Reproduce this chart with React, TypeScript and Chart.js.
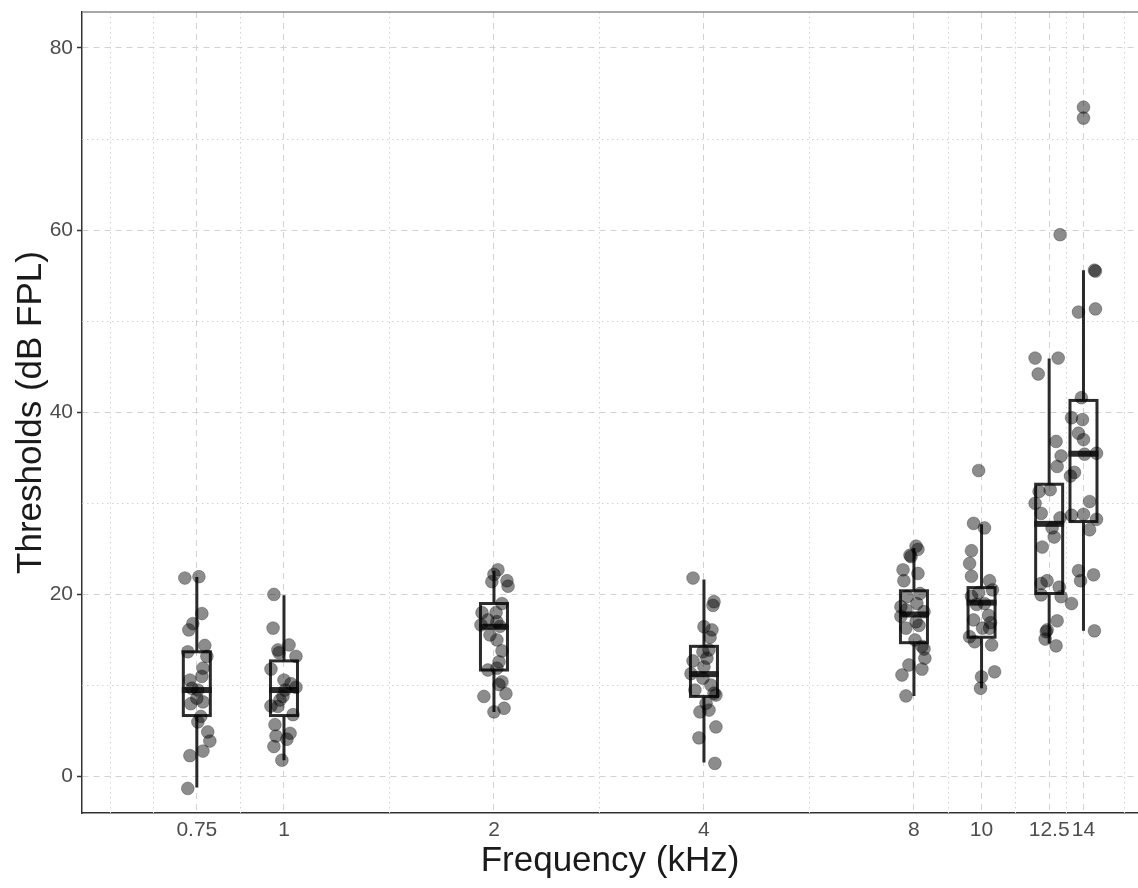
import React, { useEffect, useRef } from "react";
import { Chart, registerables } from "chart.js";

Chart.register(...registerables);

// Frequencies (kHz) and their tick labels
const frequencies = [0.75, 1, 2, 4, 8, 10, 12.5, 14];
const tickLabels = ["0.75", "1", "2", "4", "8", "10", "12.5", "14"];
const minorFreqTicks = [0.5625, 0.65, 0.866, 1.414, 2.828, 5.657, 8.944, 11.18, 13.23, 16];
const yMajorTicks = [0, 20, 40, 60, 80];
const yMinorTicks = [10, 30, 50, 70];

// Individual thresholds (dB FPL) per frequency, with horizontal jitter in milli-octaves
const thr075 = [21.8, 21.95, 17.9, 16.8, 16.1, 14.4, 13.7, 13.2, 11.9, 11.0, 10.6, 9.5, 9.7, 8.6, 8.2, 8.0, 6.6, 6.0, 4.9, 3.9, 2.8, 2.3, -1.3];
const jit075 = [-57, 10, 24, -19, -38, 38, -43, 48, 29, 24, -33, 5, -24, 0, 29, -29, 19, 5, 52, 62, 29, -33, -43];

const thr1 = [20.0, 16.3, 14.45, 13.9, 13.6, 13.2, 11.8, 10.6, 10.2, 9.8, 9.5, 8.8, 8.4, 7.75, 7.7, 6.8, 5.7, 4.75, 4.45, 4.1, 3.3, 1.8];
const jit1 = [-48, -52, 24, -29, -24, 57, -62, 0, 33, 57, 5, -5, -19, -62, -29, 43, -43, 29, -38, 14, -48, -10];

const thr2 = [22.7, 22.2, 21.5, 20.9, 21.4, 19.0, 18.0, 18.0, 17.2, 16.65, 17.0, 16.5, 15.55, 15.0, 13.8, 12.6, 11.7, 11.9, 10.4, 10.1, 9.1, 8.8, 7.5, 7.1];
const jit2 = [19, 0, 62, 67, -10, 38, -57, 10, -29, -62, 14, 29, -19, 14, 38, 24, -29, 14, 38, 24, 57, -48, 48, 0];

const thr4 = [21.8, 19.2, 18.8, 16.45, 16.1, 15.3, 13.9, 13.7, 13.0, 12.7, 12.05, 11.3, 10.8, 10.05, 9.5, 9.15, 8.95, 8.05, 7.3, 7.1, 5.45, 4.25, 1.45];
const jit4 = [-52, 48, 43, 0, 38, 29, 24, -5, 14, -52, 0, -62, -5, 33, -43, 48, 57, 10, 24, -19, 57, -24, 52];

const thr8 = [25.3, 24.95, 24.3, 24.15, 22.7, 22.3, 21.5, 20.1, 19.75, 19.0, 18.65, 18.3, 18.1, 17.6, 17.0, 16.6, 16.3, 15.0, 14.3, 14.0, 13.0, 12.25, 11.8, 11.15, 8.85];
const jit8 = [10, 19, -19, -14, -52, 19, -48, 29, -33, 14, -62, -38, 48, -62, 10, 24, -38, 5, 38, 48, 52, -24, 38, -57, -38];

const thr10 = [33.6, 27.8, 27.3, 24.8, 23.4, 22.0, 21.5, 20.5, 20.2, 19.8, 19.0, 18.9, 17.7, 17.2, 16.3, 16.9, 16.3, 15.35, 14.8, 14.45, 11.5, 10.95, 9.7];
const jit10 = [-14, -38, 14, -48, -57, -48, 38, 52, -14, -48, 14, -24, 33, -38, 5, 43, 38, -57, -33, 48, 62, 0, -5];

const thr125 = [59.5, 45.95, 45.95, 44.2, 36.8, 35.2, 34.05, 31.5, 31.3, 30.0, 28.9, 28.4, 27.3, 26.3, 25.2, 21.5, 21.2, 20.8, 19.75, 19.95, 17.1, 16.1, 15.9, 15.1, 14.35];
const jit125 = [52, -67, 43, -52, 33, 57, 38, 5, -48, -67, -38, 52, 14, 24, -33, -10, -38, 48, 57, -38, 38, -10, -14, -19, 33];

const thr14 = [73.5, 72.3, 55.6, 55.5, 51.0, 51.35, 41.6, 39.4, 39.2, 37.7, 37.0, 35.5, 35.4, 33.4, 33.0, 30.2, 28.7, 28.8, 28.25, 27.1, 22.6, 21.5, 22.15, 19.0, 16.0];
const jit14 = [0, 0, 52, 57, -24, 57, -10, -57, -5, -24, 0, 62, 5, -43, -62, 29, -57, 0, 62, 29, -24, -14, 48, -57, 52];

const thresholds = [thr075, thr1, thr2, thr4, thr8, thr10, thr125, thr14];
const jitters = [jit075, jit1, jit2, jit4, jit8, jit10, jit125, jit14];

// Box-plot summaries per frequency
const whiskerLow = [-1.2, 1.8, 7.1, 1.55, 8.85, 9.7, 14.6, 16.0];
const quart1 = [6.7, 6.7, 11.7, 8.8, 14.7, 15.3, 20.1, 28.0];
const medians = [9.5, 9.5, 16.45, 11.25, 17.8, 19.1, 27.75, 35.45];
const quart3 = [13.7, 12.7, 19.0, 14.3, 20.4, 20.75, 32.1, 41.3];
const whiskerHigh = [21.9, 19.9, 22.6, 21.65, 25.1, 27.7, 45.9, 55.6];

const W = 1138;
const H = 888;
const FONT = "'Liberation Sans', Arial, sans-serif";
const GRID = "#d2d2d2";
const AXIS = "#333333";
const BOX_HALF = 13.5;

const zeroPadding = (s: any) => {
  s.paddingTop = 0;
  s.paddingBottom = 0;
  s.paddingLeft = 0;
  s.paddingRight = 0;
};

const boxPlugin = {
  id: "boxPlugin",
  beforeDatasetsDraw(chart: any) {
    const { ctx, chartArea: a, scales } = chart;
    const xs = scales.x;
    const ys = scales.y;
    ctx.save();
    // minor grid (dotted)
    ctx.strokeStyle = GRID;
    ctx.lineWidth = 1;
    ctx.setLineDash([1.5, 3.5]);
    minorFreqTicks.forEach((v) => {
      const px = Math.round(xs.getPixelForValue(v)) + 0.5;
      if (px < a.left || px > a.right) return;
      ctx.beginPath();
      ctx.moveTo(px, a.top);
      ctx.lineTo(px, a.bottom);
      ctx.stroke();
    });
    yMinorTicks.forEach((v) => {
      const py = Math.round(ys.getPixelForValue(v)) + 0.5;
      ctx.beginPath();
      ctx.moveTo(a.left, py);
      ctx.lineTo(a.right, py);
      ctx.stroke();
    });
    ctx.setLineDash([]);
    // boxes
    ctx.strokeStyle = "rgba(25,25,25,0.92)";
    ctx.lineCap = "butt";
    frequencies.forEach((f, i) => {
      const cx = xs.getPixelForValue(f);
      const yWL = ys.getPixelForValue(whiskerLow[i]);
      const yQ1 = ys.getPixelForValue(quart1[i]);
      const yMd = ys.getPixelForValue(medians[i]);
      const yQ3 = ys.getPixelForValue(quart3[i]);
      const yWH = ys.getPixelForValue(whiskerHigh[i]);
      ctx.lineWidth = 3;
      ctx.beginPath();
      ctx.moveTo(cx, yWL);
      ctx.lineTo(cx, yQ1);
      ctx.moveTo(cx, yQ3);
      ctx.lineTo(cx, yWH);
      ctx.stroke();
      ctx.strokeRect(cx - BOX_HALF, yQ3, BOX_HALF * 2, yQ1 - yQ3);
      ctx.lineWidth = 6;
      ctx.beginPath();
      ctx.moveTo(cx - BOX_HALF - 1.5, yMd);
      ctx.lineTo(cx + BOX_HALF + 1.5, yMd);
      ctx.stroke();
    });
    ctx.restore();
  },
  afterDraw(chart: any) {
    const { ctx, chartArea: a } = chart;
    ctx.save();
    ctx.strokeStyle = "#8a8a8a";
    ctx.lineWidth = 1.5;
    ctx.beginPath();
    ctx.moveTo(a.left, a.top);
    ctx.lineTo(a.right, a.top);
    ctx.stroke();
    ctx.restore();
  },
};

export default function App() {
  const ref = useRef<HTMLCanvasElement | null>(null);

  useEffect(() => {
    if (!ref.current) return;
    const datasets = frequencies.map((f, i) => ({
      type: "scatter" as const,
      label: tickLabels[i],
      data: thresholds[i].map((v, k) => ({ x: f * Math.pow(2, jitters[i][k] / 1000), y: v })),
      pointRadius: 6.4,
      pointHoverRadius: 6.4,
      backgroundColor: "rgba(0,0,0,0.45)",
      borderColor: "rgba(0,0,0,0.45)",
      borderWidth: 0.6,
    }));

    const chart = new Chart(ref.current, {
      type: "scatter",
      data: { datasets },
      plugins: [boxPlugin],
      options: {
        animation: false,
        responsive: false,
        devicePixelRatio: 1,
        layout: { autoPadding: false, padding: { top: 12, right: 0, left: 0, bottom: 0 } },
        plugins: { legend: { display: false }, tooltip: { enabled: false } },
        scales: {
          x: {
            type: "logarithmic",
            min: 0.5134,
            max: 16.76,
            afterBuildTicks: (s: any) => {
              s.ticks = frequencies.map((v) => ({ value: v }));
            },
            afterFit: (s: any) => {
              s.height = 75;
              zeroPadding(s);
            },
            ticks: {
              autoSkip: false,
              maxRotation: 0,
              minRotation: 0,
              padding: 5,
              color: "#4d4d4d",
              font: { family: FONT, size: 21 },
              callback: (v: any) => {
                const idx = frequencies.indexOf(Number(v));
                return idx >= 0 ? tickLabels[idx] : "";
              },
            },
            grid: { color: GRID, lineWidth: 1, drawTicks: false },
            border: { display: true, color: AXIS, width: 1.5, dash: [6, 5] },
            title: {
              display: true,
              text: "Frequency (kHz)",
              color: "#1a1a1a",
              font: { family: FONT, size: 35 },
              padding: { top: 0, bottom: 6 },
            },
          },
          y: {
            type: "linear",
            min: -4.0,
            max: 83.95,
            afterBuildTicks: (s: any) => {
              s.ticks = yMajorTicks.map((v) => ({ value: v }));
            },
            afterFit: (s: any) => {
              s.width = 82;
              zeroPadding(s);
            },
            ticks: {
              padding: 4,
              color: "#4d4d4d",
              font: { family: FONT, size: 21 },
            },
            grid: { color: GRID, lineWidth: 1, drawTicks: true, tickLength: 5, tickColor: AXIS, tickWidth: 1.5 },
            border: { display: true, color: AXIS, width: 1.5, dash: [6, 5] },
            title: {
              display: true,
              text: "Thresholds (dB FPL)",
              color: "#1a1a1a",
              font: { family: FONT, size: 35 },
              padding: { top: 10, bottom: 0 },
            },
          },
        },
      },
    } as any);
    return () => chart.destroy();
  }, []);

  return (
    <div style={{ position: "absolute", left: 0, top: 0, width: W, height: H, background: "#fff" }}>
      <canvas ref={ref} width={W} height={H} style={{ width: W, height: H, display: "block" }} />
    </div>
  );
}
